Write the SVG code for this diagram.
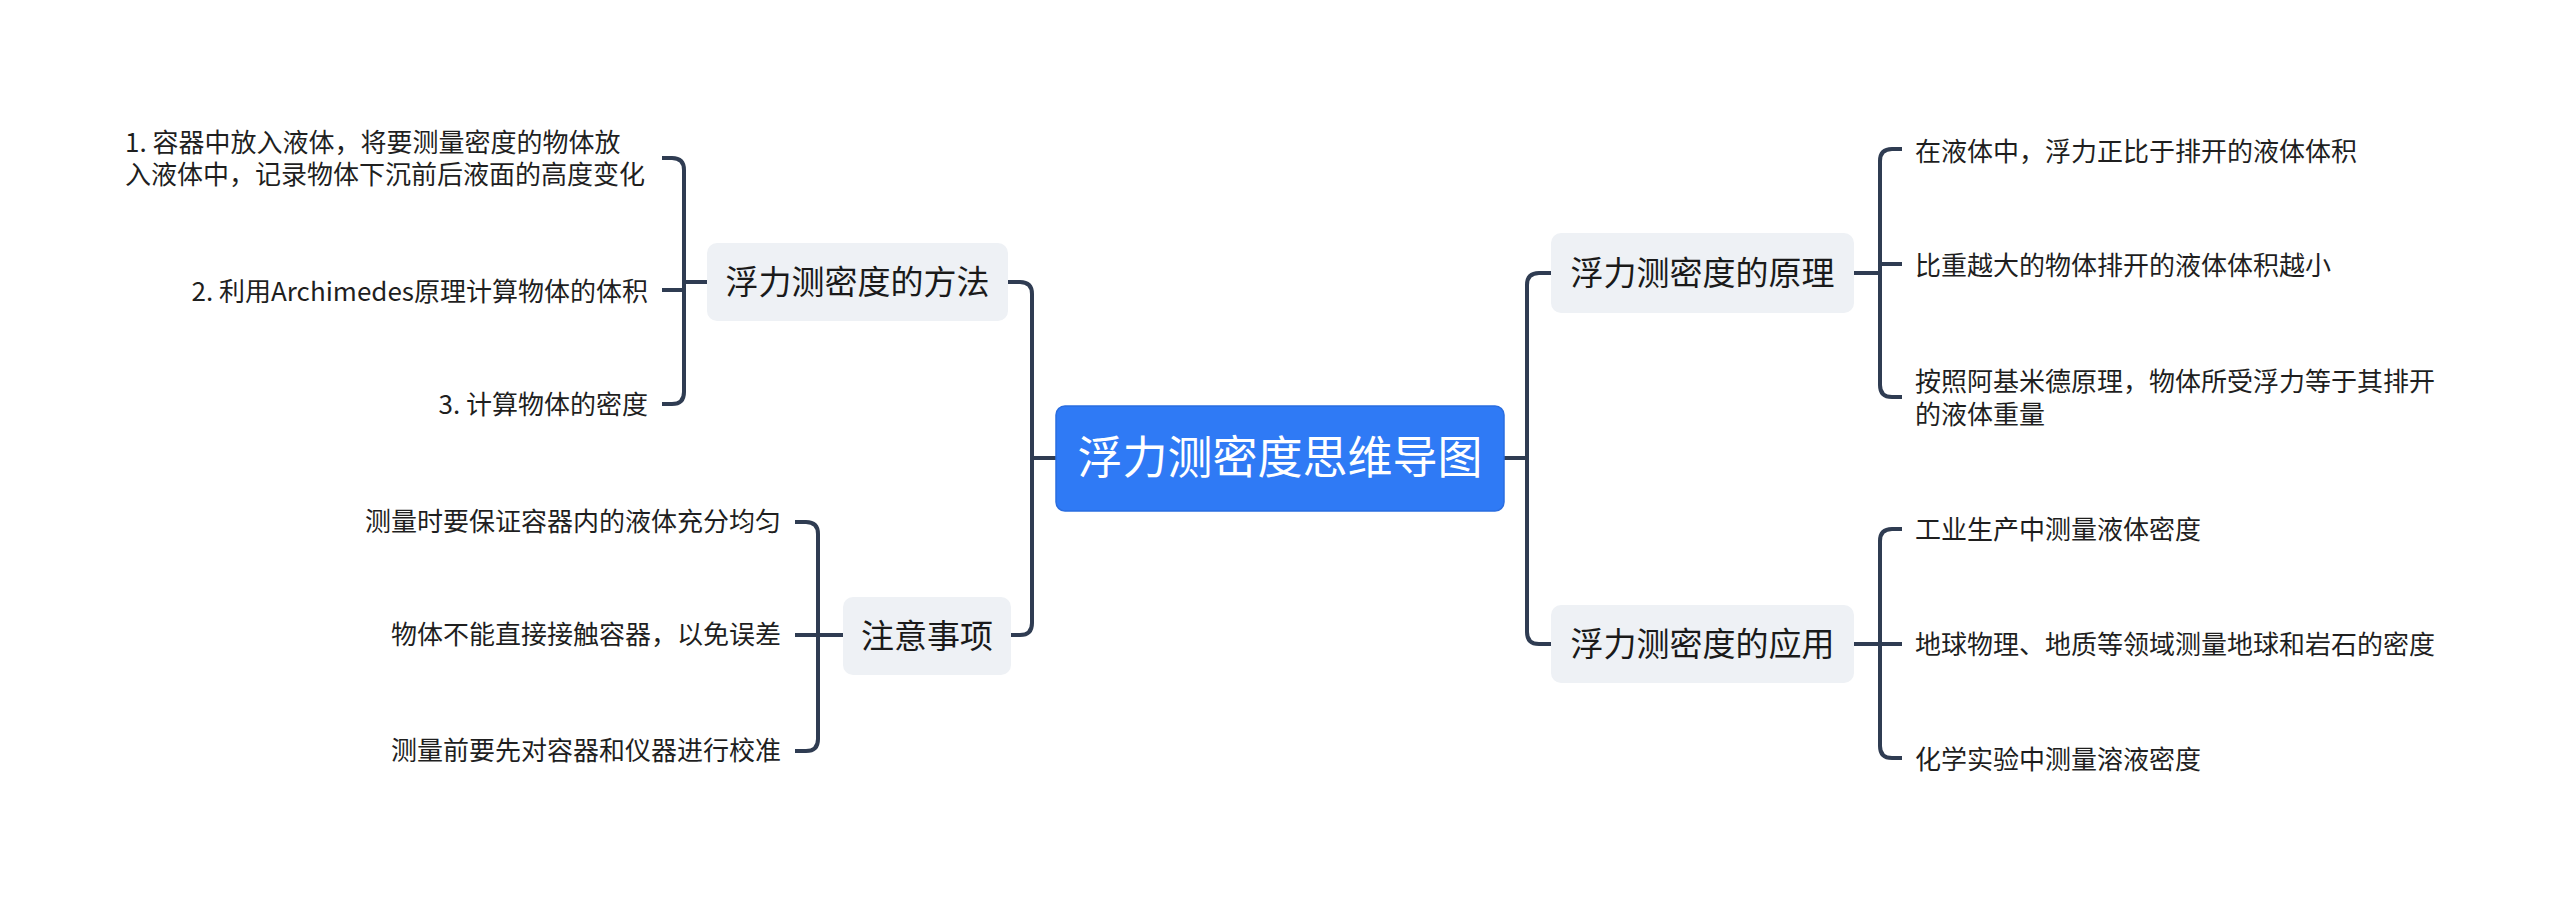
<svg xmlns="http://www.w3.org/2000/svg" width="2560" height="901" viewBox="0 0 2560 901">
<style>
.ln{fill:none;stroke:#2f3c52;stroke-width:4;stroke-linecap:butt;stroke-linejoin:round}
.box{fill:#eef1f5}
.nt{font-family:"Noto Sans CJK SC","Noto Sans",sans-serif;font-size:33px;fill:#1a1a1a}
.ct{font-family:"Noto Sans CJK SC","Noto Sans",sans-serif;font-size:26px;fill:#1f1f1f}
.rt{font-family:"Noto Sans CJK SC","Noto Sans",sans-serif;font-size:45px;fill:#ffffff}
</style>
<rect width="2560" height="901" fill="#ffffff"/>
<g id="connectors">
  <path class="ln" d="M1056 458 H1032"/>
  <path class="ln" d="M1008 282 H1020 Q1032 282 1032 294 V623 Q1032 635 1020 635 H1011"/>
  <path class="ln" d="M1504 458 H1527"/>
  <path class="ln" d="M1551 273 H1539 Q1527 273 1527 285 V632 Q1527 644 1539 644 H1551"/>
  <path class="ln" d="M707 282 H684"/>
  <path class="ln" d="M662 158 H672 Q684 158 684 170 V392 Q684 404 672 404 H662"/>
  <path class="ln" d="M662 290 H684"/>
  <path class="ln" d="M843 635 H795"/>
  <path class="ln" d="M795 522 H806 Q818 522 818 534 V739 Q818 751 806 751 H795"/>
  <path class="ln" d="M1854 273 H1880"/>
  <path class="ln" d="M1902 149 H1892 Q1880 149 1880 161 V385 Q1880 397 1892 397 H1902"/>
  <path class="ln" d="M1880 264 H1902"/>
  <path class="ln" d="M1854 644 H1902"/>
  <path class="ln" d="M1902 529 H1892 Q1880 529 1880 541 V746 Q1880 758 1892 758 H1902"/>
</g>
<g id="root">
  <rect x="1056" y="406" width="448" height="105" rx="9" fill="#2f7af5" stroke="#2a6de0" stroke-width="1.5"/>
  <text class="rt" x="1280" y="474" text-anchor="middle">浮力测密度思维导图</text>
</g>
<g id="n-method">
  <rect class="box" x="707" y="243" width="301" height="78" rx="10"/>
  <text class="nt" x="857.5" y="294" text-anchor="middle">浮力测密度的方法</text>
</g>
<g id="n-method-1">
  <text class="ct" x="125" y="152">1. 容器中放入液体，将要测量密度的物体放</text>
  <text class="ct" x="125" y="184">入液体中，记录物体下沉前后液面的高度变化</text>
</g>
<g id="n-method-2">
  <text class="ct" x="648" y="301" text-anchor="end">2. 利用Archimedes原理计算物体的体积</text>
</g>
<g id="n-method-3">
  <text class="ct" x="648" y="414" text-anchor="end">3. 计算物体的密度</text>
</g>
<g id="n-notes">
  <rect class="box" x="843" y="597" width="168" height="78" rx="10"/>
  <text class="nt" x="927" y="648" text-anchor="middle">注意事项</text>
</g>
<g id="n-notes-1">
  <text class="ct" x="781" y="531" text-anchor="end">测量时要保证容器内的液体充分均匀</text>
</g>
<g id="n-notes-2">
  <text class="ct" x="781" y="644" text-anchor="end">物体不能直接接触容器，以免误差</text>
</g>
<g id="n-notes-3">
  <text class="ct" x="781" y="760" text-anchor="end">测量前要先对容器和仪器进行校准</text>
</g>
<g id="n-principle">
  <rect class="box" x="1551" y="233" width="303" height="80" rx="10"/>
  <text class="nt" x="1702.5" y="285" text-anchor="middle">浮力测密度的原理</text>
</g>
<g id="n-principle-1">
  <text class="ct" x="1915" y="161">在液体中，浮力正比于排开的液体体积</text>
</g>
<g id="n-principle-2">
  <text class="ct" x="1915" y="275">比重越大的物体排开的液体体积越小</text>
</g>
<g id="n-principle-3">
  <text class="ct" x="1915" y="391">按照阿基米德原理，物体所受浮力等于其排开</text>
  <text class="ct" x="1915" y="424">的液体重量</text>
</g>
<g id="n-app">
  <rect class="box" x="1551" y="605" width="303" height="78" rx="10"/>
  <text class="nt" x="1702.5" y="656" text-anchor="middle">浮力测密度的应用</text>
</g>
<g id="n-app-1">
  <text class="ct" x="1915" y="539">工业生产中测量液体密度</text>
</g>
<g id="n-app-2">
  <text class="ct" x="1915" y="654">地球物理、地质等领域测量地球和岩石的密度</text>
</g>
<g id="n-app-3">
  <text class="ct" x="1915" y="769">化学实验中测量溶液密度</text>
</g>
</svg>
